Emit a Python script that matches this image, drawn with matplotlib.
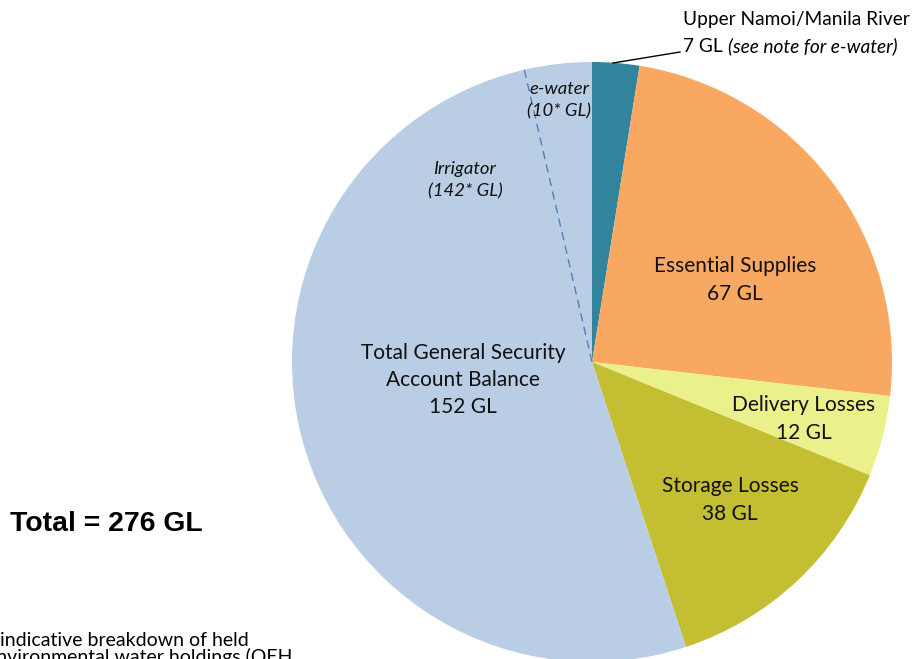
import matplotlib
matplotlib.use("Agg")
import matplotlib.pyplot as plt
import numpy as np

# slice values in GL, clockwise from the top
categories = ["Upper Namoi/Manila River", "Essential Supplies", "Delivery Losses",
              "Storage Losses", "Total General Security Account Balance"]
values = [7, 67, 12, 38, 152]
colors = ["#31849B", "#F9A862", "#EBF18A", "#C4BE32", "#B9CDE5"]

# split of the general security balance
ewater_gl = 10
irrigator_gl = 142
total_gl = sum(values)

FONT = ["Lato", "DejaVu Sans"]

W, H = 914, 659
fig = plt.figure(figsize=(W / 100, H / 100), dpi=100)
cx, cy, r = 592, 362, 300
ax = fig.add_axes([(cx - r) / W, (H - cy - r) / H, 2 * r / W, 2 * r / H])

ax.pie(values, colors=colors, startangle=90, counterclock=False, radius=1,
       center=(0, 0), wedgeprops=dict(linewidth=0), frame=True)
ax.set_xlim(-1, 1)
ax.set_ylim(-1, 1)
ax.set_aspect("equal")
ax.axis("off")

# dashed divider between e-water and irrigator share
ang = np.deg2rad(90 + ewater_gl / total_gl * 360)
ax.plot([0, np.cos(ang)], [0, np.sin(ang)], color="#4F81BD", lw=1.0,
        ls=(0, (6, 4)), solid_capstyle="butt")


def px(x, y):
    return (x - cx) / r, (cy - y) / r


def label(x, y, s, size=15, style="normal", spacing=1.45):
    ax.text(*px(x, y), s, ha="center", va="center", fontsize=size,
            family=FONT, style=style, linespacing=spacing, color="#111111")


label(735, 280, f"Essential Supplies\n{values[1]} GL")
label(804, 419, f"Delivery Losses\n{values[2]} GL")
label(730, 500, f"Storage Losses\n{values[3]} GL")
label(463, 380, f"Total General Security\nAccount Balance\n{values[4]} GL")
label(465, 180, f"Irrigator\n({irrigator_gl}* GL)", size=13.3, style="italic", spacing=1.5)
label(559, 100, f"e-water\n({ewater_gl}* GL)", size=13.3, style="italic", spacing=1.5)

# leader label for the small slice
fig.text(683 / W, 1 - 20 / H, "Upper Namoi/Manila River", ha="left", va="center",
         fontsize=13.8, family=FONT)
t7 = fig.text(683 / W, 1 - 46 / H, f"{values[0]} GL", ha="left", va="center",
              fontsize=13.8, family=FONT)
fig.canvas.draw()
x_end = t7.get_window_extent().x1
fig.text((x_end + 5) / W, 1 - 46 / H, "(see note for e-water)", ha="left", va="center",
         fontsize=13.8, family=FONT, style="italic")
fig.add_artist(plt.Line2D([613 / W, 680 / W], [1 - 63 / H, 1 - 52 / H],
                          color="black", lw=1.0))

fig.text(10 / W, 1 - 524 / H, f"Total = {total_gl} GL", ha="left", va="center",
         fontsize=20.4, family=["Liberation Sans", "DejaVu Sans"], weight="bold")

fig.text(0 / W, 1 - 640 / H, "indicative breakdown of held", ha="left", va="center",
         fontsize=14, family=FONT)
fig.text(-14 / W, 1 - 657 / H, "environmental water holdings (OEH", ha="left",
         va="center", fontsize=14, family=FONT)

fig.savefig("out.png", dpi=100)
